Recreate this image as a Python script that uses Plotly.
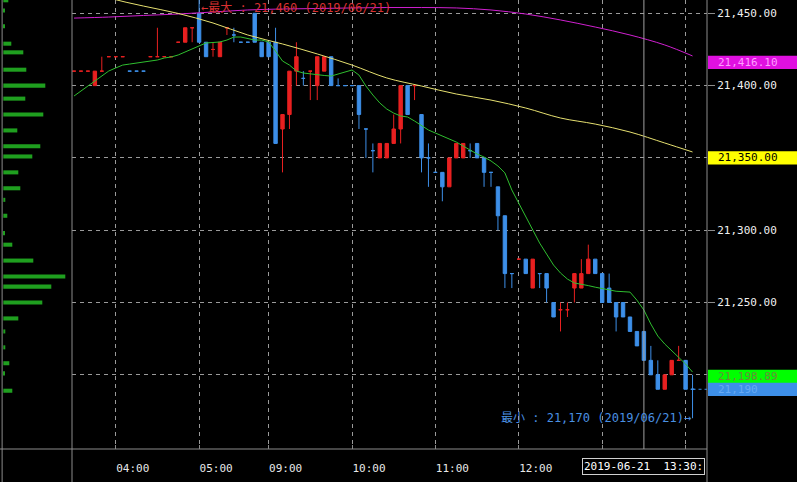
import plotly.graph_objects as go

# ---------- DATA (5分足, 2019/06/21) ----------
times = [
    "03:30", "03:35", "03:40", "03:45", "03:50", "03:55", "04:00", "04:05", "04:10", "04:15",
    "04:20", "04:25", "04:30", "04:35", "04:40", "04:45", "04:50", "04:55", "05:00", "05:05",
    "05:10", "05:15", "05:20", "05:25", "05:30",
    "08:45", "08:50", "08:55",
    "09:00", "09:05", "09:10", "09:15", "09:20", "09:25", "09:30", "09:35", "09:40", "09:45", "09:50", "09:55",
    "10:00", "10:05", "10:10", "10:15", "10:20", "10:25", "10:30", "10:35", "10:40", "10:45", "10:50", "10:55",
    "11:00", "11:05", "11:10", "11:15", "11:20", "11:25", "11:30", "11:35", "11:40", "11:45", "11:50", "11:55",
    "12:00", "12:05", "12:10", "12:15", "12:20", "12:25", "12:30", "12:35", "12:40", "12:45", "12:50", "12:55",
    "13:00", "13:05", "13:10", "13:15", "13:20", "13:25", "13:30", "13:35", "13:40", "13:45", "13:50", "13:55",
    "14:00", "14:05",
]
opens = [
    21410, 21410, 21410, 21400, 21410, 21420, 21420, 21420, 21410, 21410,
    21410, 21420, 21420, 21420, 21420, 21430, 21430, 21440, 21450, 21430,
    21425, 21420, 21440, 21435, 21430, 21430, 21450, 21430, 21430, 21430,
    21370, 21380, 21410, 21405, 21410, 21400, 21410, 21420, 21400, 21400,
    21400, 21400, 21370, 21355, 21350, 21350, 21360, 21370, 21400, 21400,
    21380, 21350, 21340, 21340, 21330, 21350, 21350, 21355, 21360, 21350,
    21340, 21330, 21310, 21270, 21280, 21280, 21260, 21270, 21270, 21250,
    21245, 21245, 21260, 21260, 21270, 21280, 21270, 21260, 21250, 21250,
    21240, 21230, 21230, 21210, 21200, 21190, 21200, 21210, 21210, 21190,
]
highs = [
    21410, 21410, 21410, 21410, 21420, 21420, 21420, 21420, 21410, 21410,
    21410, 21420, 21440, 21420, 21420, 21430, 21440, 21440, 21460, 21430,
    21430, 21430, 21440, 21440, 21430, 21430, 21450, 21430, 21430, 21440,
    21380, 21410, 21430, 21410, 21410, 21420, 21420, 21420, 21405, 21400,
    21400, 21400, 21370, 21360, 21360, 21360, 21380, 21400, 21400, 21400,
    21380, 21360, 21340, 21340, 21350, 21360, 21360, 21360, 21360, 21350,
    21340, 21330, 21310, 21270, 21280, 21280, 21280, 21270, 21270, 21250,
    21250, 21250, 21270, 21280, 21290, 21280, 21270, 21270, 21250, 21250,
    21240, 21230, 21230, 21220, 21210, 21200, 21210, 21220, 21210, 21200,
]
lows = [
    21410, 21410, 21410, 21400, 21410, 21420, 21420, 21420, 21410, 21410,
    21410, 21420, 21420, 21420, 21420, 21430, 21430, 21430, 21430, 21420,
    21420, 21420, 21435, 21430, 21430, 21430, 21430, 21420, 21420, 21360,
    21340, 21370, 21400, 21400, 21390, 21390, 21410, 21400, 21400, 21400,
    21400, 21370, 21350, 21340, 21350, 21350, 21360, 21360, 21380, 21390,
    21340, 21330, 21340, 21320, 21330, 21350, 21350, 21350, 21350, 21330,
    21330, 21300, 21260, 21260, 21280, 21270, 21260, 21260, 21250, 21240,
    21230, 21240, 21250, 21260, 21270, 21270, 21250, 21250, 21230, 21240,
    21230, 21220, 21210, 21200, 21190, 21190, 21200, 21210, 21190, 21170,
]
closes = [
    21410, 21410, 21410, 21410, 21410, 21420, 21420, 21420, 21410, 21410,
    21410, 21420, 21420, 21420, 21420, 21430, 21440, 21440, 21430, 21420,
    21425, 21430, 21440, 21435, 21430, 21430, 21430, 21420, 21420, 21360,
    21380, 21410, 21420, 21405, 21410, 21420, 21420, 21400, 21400, 21400,
    21400, 21380, 21370, 21355, 21360, 21360, 21370, 21400, 21380, 21400,
    21350, 21350, 21340, 21330, 21350, 21360, 21360, 21355, 21350, 21340,
    21340, 21310, 21270, 21270, 21280, 21270, 21280, 21270, 21260, 21240,
    21245, 21245, 21270, 21270, 21280, 21270, 21250, 21250, 21240, 21240,
    21230, 21220, 21210, 21200, 21190, 21200, 21210, 21210, 21190, 21190,
]

# 短期移動平均 (緑)
ma_short = [
    21392.8, 21396.3, 21399.7, 21403.2, 21406.6, 21410.1, 21412.2, 21414.2, 21414.9, 21415.6,
    21416.3, 21417.0, 21417.7, 21419.1, 21419.8, 21421.2, 21423.2, 21425.3, 21427.4, 21429.5,
    21429.8, 21430.2, 21431.5, 21433.6, 21433.6, 21432.6, 21431.5, 21431.5, 21430.2, 21423.9,
    21417.0, 21414.2, 21410.1, 21408.7, 21408.0, 21407.3, 21407.0, 21406.6, 21408.0, 21409.4,
    21410.8, 21407.3, 21399.7, 21393.5, 21388.0, 21383.8, 21381.0, 21379.0, 21378.3, 21375.5,
    21372.1, 21369.3, 21367.2, 21365.1, 21363.1, 21361.0, 21358.2, 21355.5, 21352.7, 21350.6,
    21347.9, 21344.4, 21339.6, 21327.8, 21318.8, 21309.8, 21300.8, 21291.1, 21283.5, 21275.9,
    21270.4, 21266.2, 21263.5, 21262.8, 21261.7, 21260.6, 21259.6, 21258.5, 21257.8, 21257.5,
    21257.2, 21251.6, 21244.8, 21235.1, 21226.8, 21221.3, 21216.5, 21212.3, 21207.5, 21201.9,
]

# 中期・長期移動平均 (黄・紫) — 読み取り点
ma_times = ["03:30", "03:55", "04:20", "04:45", "05:10", "08:45", "09:10", "09:35", "10:00", "10:25",
            "10:50", "11:15", "11:40", "12:05", "12:30", "12:55", "13:20", "13:45", "14:05"]
ma_mid = [21468.2, 21460.6, 21455.0, 21449.9, 21443.3, 21435.0, 21428.8, 21421.9, 21414.2, 21405.3,
          21399.7, 21394.2, 21390.0, 21384.5, 21377.6, 21373.4, 21367.9, 21360.3, 21354.1]
ma_long = [21446.7, 21447.4, 21448.5, 21449.5, 21450.9, 21452.3, 21453.0, 21453.3, 21453.7, 21454.0,
           21454.0, 21453.7, 21452.3, 21449.5, 21445.4, 21440.5, 21435.0, 21428.1, 21420.5]

# 価格帯別出来高
profile_price = [21459, 21452, 21441, 21429, 21423, 21411, 21400, 21391, 21380, 21369,
                 21358, 21351, 21340, 21329, 21321, 21310, 21298, 21290, 21279, 21268,
                 21261, 21250, 21239, 21230, 21219, 21208, 21201, 21189]
profile_vol = [5, 1, 1, 8, 20, 23, 42, 22, 40, 14,
               37, 29, 15, 17, 2, 4, 1, 9, 30, 62,
               48, 39, 15, 2, 2, 6, 1.5, 9]

# 右端の値ラベル
label_values = [21416.10, 21350.00, 21198.89, 21190]
label_texts = ["21,416.10", "21,350.00", "21,198.89", "21,190"]
label_bg = ["#e010e0", "#ffff00", "#00ff00", "#3d8fe8"]
label_fg = ["#ff9cff", "#000000", "#6c8a3a", "#66aaf5"]

y_ticks = [21200, 21250, 21300, 21350, 21400, 21450]
x_ticks = ["04:00", "05:00", "09:00", "10:00", "11:00", "12:00", "13:00", "14:00"]
x_ticktext = ["04:00", "05:00", "09:00", "10:00", "11:00", "12:00", "", ""]
cursor_time = "13:30"
cursor_label = "2019-06-21  13:30:"
date_str = "2019/06/21"

# ---------- FIGURE ----------
MONO = "DejaVu Sans Mono, Noto Sans CJK JP, monospace"
YR = [21148.7, 21459.2]
W, H = 797, 482
L_PANEL = 72 / 707
BOT = -33 / 449
GRID = "#9a9a9a"
BORDER = "#8c8c8c"
UP = "#e82020"
DOWN = "#3d8fe8"

fig = go.Figure()

fig.add_trace(go.Bar(
    x=profile_vol, y=profile_price, orientation="h",
    xaxis="x2", yaxis="y2", width=2.8,
    marker=dict(color="#1f9f1f", line=dict(width=0)),
))

fig.add_trace(go.Candlestick(
    x=times, open=opens, high=highs, low=lows, close=closes,
    increasing=dict(line=dict(color=UP, width=1), fillcolor=UP),
    decreasing=dict(line=dict(color=DOWN, width=1), fillcolor=DOWN),
    whiskerwidth=0,
))

fig.add_trace(go.Scatter(x=ma_times, y=ma_long, mode="lines",
                         line=dict(color="#d020d0", width=1, shape="spline")))
fig.add_trace(go.Scatter(x=ma_times, y=ma_mid, mode="lines",
                         line=dict(color="#e6e070", width=1, shape="spline")))
fig.add_trace(go.Scatter(x=times, y=ma_short, mode="lines",
                         line=dict(color="#2fbf2f", width=1)))

shapes = []
# 枠線
shapes.append(dict(type="line", xref="paper", yref="paper", x0=1, x1=1, y0=BOT, y1=1,
                   line=dict(color=BORDER, width=1)))
shapes.append(dict(type="line", xref="paper", yref="paper", x0=L_PANEL, x1=L_PANEL, y0=BOT, y1=1,
                   line=dict(color=BORDER, width=1)))
shapes.append(dict(type="line", xref="paper", yref="paper", x0=0.003, x1=0.003, y0=BOT, y1=1,
                   line=dict(color=BORDER, width=1)))
shapes.append(dict(type="line", xref="paper", yref="paper", x0=0, x1=1, y0=0, y1=0,
                   line=dict(color=BORDER, width=1)))
# カーソル線
shapes.append(dict(type="line", xref="x", yref="paper", x0=cursor_time, x1=cursor_time, y0=0, y1=1,
                   line=dict(color="#a0a0a0", width=1)))
# 現在値の破線
shapes.append(dict(type="line", xref="x", yref="y", x0=len(times) - 1, x1=len(times) + 2,
                   y0=closes[-1], y1=closes[-1],
                   line=dict(color=DOWN, width=1, dash="3px,3px")))
# 右端ラベルの背景
for v, bg in zip(label_values, label_bg):
    shapes.append(dict(type="rect", xref="paper", yref="y", x0=1 + 1 / 707, x1=1 + 90 / 707,
                       y0=v - 4.6, y1=v + 4.6, fillcolor=bg, line=dict(width=0), layer="above"))

annotations = []
for v, t, fg in zip(label_values, label_texts, label_fg):
    annotations.append(dict(x=1, xref="paper", y=v, yref="y", xanchor="left", yanchor="middle",
                            xshift=9, text=t, showarrow=False,
                            font=dict(family=MONO, size=11, color=fg)))

i_max = highs.index(max(highs))
i_min = len(lows) - 1 - lows[::-1].index(min(lows))
annotations.append(dict(x=times[i_max], xref="x", y=1, yref="paper", xanchor="left", yanchor="top",
                        yshift=1, text=f"←最大 : {max(highs):,} ({date_str})", showarrow=False,
                        font=dict(family=MONO, size=12, color="#d83030")))
annotations.append(dict(x=times[i_min], xref="x", y=min(lows), yref="y", xanchor="right", yanchor="middle",
                        text=f"最小 : {min(lows):,} ({date_str})→", showarrow=False,
                        font=dict(family=MONO, size=12, color="#4a90e2")))
annotations.append(dict(x=cursor_time, xref="x", y=-0.038, yref="paper", xanchor="center", yanchor="middle",
                        text=cursor_label, showarrow=False, bgcolor="#000000",
                        bordercolor="#d0d0d0", borderwidth=1, borderpad=1,
                        font=dict(family=MONO, size=11, color="#ffffff")))

fig.update_layout(
    width=W, height=H,
    margin=dict(l=0, r=90, t=0, b=33),
    paper_bgcolor="#000000", plot_bgcolor="#000000",
    showlegend=False, hovermode=False,
    xaxis=dict(
        domain=[L_PANEL, 1], anchor="y",
        type="category", categoryorder="array", categoryarray=times,
        range=[-0.29, 91.08], rangeslider=dict(visible=False),
        tickmode="array", tickvals=x_ticks, ticktext=x_ticktext,
        ticks="inside", ticklen=4, tickcolor=BORDER,
        showgrid=True, gridcolor=GRID, griddash="4px,4px", gridwidth=1,
        showline=False, zeroline=False,
        ticklabelshift=17, ticklabelstandoff=11,
        tickfont=dict(family=MONO, size=11, color="#e8e8e8"),
    ),
    yaxis=dict(
        domain=[0, 1], anchor="x", side="right", range=YR,
        tickmode="array", tickvals=y_ticks, tickformat=",.2f",
        ticks="outside", ticklen=7, tickcolor=BORDER,
        showgrid=True, gridcolor=GRID, griddash="4px,4px", gridwidth=1,
        showline=False, zeroline=False,
        tickfont=dict(family=MONO, size=11, color="#f0f0f0"),
    ),
    xaxis2=dict(domain=[0, L_PANEL], anchor="y2", range=[-3.3, 68.7], visible=False),
    yaxis2=dict(domain=[0, 1], anchor="x2", range=YR, visible=False),
    shapes=shapes,
    annotations=annotations,
)

fig.write_html("out.html", config={"displayModeBar": False},
               post_script="document.body.style.margin='0px';")
